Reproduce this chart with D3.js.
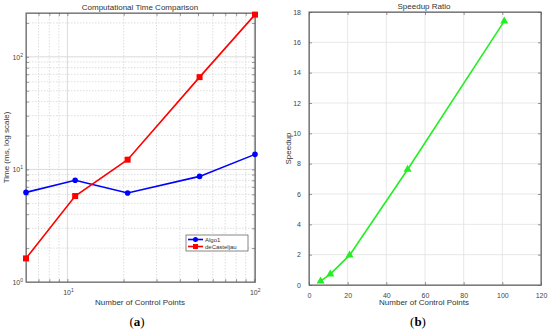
<!DOCTYPE html>
<html><head><meta charset="utf-8">
<script src="https://cdn.jsdelivr.net/npm/d3@7"></script>
<style>body{margin:0;background:#fff}svg{display:block;font-family:"Liberation Sans",Arial,sans-serif}</style>
</head><body><svg id="c" width="550" height="331"></svg>
<script>
const controlPoints = [6, 11, 21, 51, 101];
const algo1Times = [6.25, 8.0, 6.17, 8.67, 13.6];
const deCasteljauTimes = [1.62, 5.8, 12.2, 66, 237];
const speedups = [0.26, 0.72, 1.97, 7.62, 17.4];
const speedXTicks = [0, 20, 40, 60, 80, 100, 120];
const speedYTicks = [0, 2, 4, 6, 8, 10, 12, 14, 16, 18];
const logTickExps = [0, 1, 2];

const svg = d3.select("#c");
const axisCol = "#555", textCol = "#444";

// ---------- Left chart ----------
const L = {l: 26, r: 255, t: 13, b: 282};
const xL = d3.scaleLog().domain([6, 101]).range([L.l, L.r]);
const yL = d3.scaleLog().domain([1, 245]).range([L.b, L.t]);
const gL = svg.append("g");

const xMinor = [];
for (let d = 1; d <= 100; d *= 10) for (let k = 1; k <= 9; k++) { const v = k * d; if (v > 6 && v < 101) xMinor.push(v); }
const yMinor = [];
for (let d = 1; d <= 100; d *= 10) for (let k = 1; k <= 9; k++) { const v = k * d; if (v > 1 && v < 245) yMinor.push(v); }
const isMajor = d => Math.abs(Math.log10(d) % 1) < 1e-9;
gL.selectAll(".xm").data(xMinor).enter().append("line")
  .attr("x1", d => xL(d)).attr("x2", d => xL(d)).attr("y1", L.t).attr("y2", L.b)
  .attr("stroke", d => isMajor(d) ? "#d0d0d0" : "#d6d6d6").attr("stroke-width", 0.8)
  .attr("stroke-dasharray", d => isMajor(d) ? null : "1.5,1.5");
gL.selectAll(".ym").data(yMinor).enter().append("line")
  .attr("y1", d => yL(d)).attr("y2", d => yL(d)).attr("x1", L.l).attr("x2", L.r)
  .attr("stroke", d => isMajor(d) ? "#d0d0d0" : "#d6d6d6").attr("stroke-width", 0.8)
  .attr("stroke-dasharray", d => isMajor(d) ? null : "1.5,1.5");

gL.append("g").attr("transform", `translate(0,${L.b})`).call(d3.axisBottom(xL).tickValues(xMinor).tickSizeInner(-3).tickSizeOuter(0).tickFormat(""));
gL.append("g").attr("transform", `translate(0,${L.t})`).call(d3.axisTop(xL).tickValues(xMinor).tickSizeInner(-3).tickSizeOuter(0).tickFormat(""));
gL.append("g").attr("transform", `translate(${L.l},0)`).call(d3.axisLeft(yL).tickValues(yMinor).tickSizeInner(-3).tickSizeOuter(0).tickFormat(""));
gL.append("g").attr("transform", `translate(${L.r},0)`).call(d3.axisRight(yL).tickValues(yMinor).tickSizeInner(-3).tickSizeOuter(0).tickFormat(""));
gL.selectAll(".domain, .tick line").attr("stroke", axisCol).attr("stroke-width", 0.6);
gL.append("rect").attr("x", L.l).attr("y", L.t).attr("width", L.r - L.l).attr("height", L.b - L.t)
  .attr("fill", "none").attr("stroke", "#666").attr("stroke-width", 1);

function powLabel(g, x, y, e, anchor) {
  const t = g.append("text").attr("x", x).attr("y", y).attr("text-anchor", anchor)
    .attr("font-size", 7).attr("fill", textCol);
  t.append("tspan").text("10");
  t.append("tspan").attr("dy", -3).attr("font-size", 5).text(e);
}
logTickExps.forEach(e => {
  const v = Math.pow(10, e);
  powLabel(gL, L.l - 3, yL(v) + 3, e, "end");
  if (v >= 6 && v <= 101) powLabel(gL, xL(v) + 1, L.b + 13, e, "middle");
});

const lineL = d3.line().x((d, i) => xL(controlPoints[i])).y(d => yL(d));
gL.append("path").datum(algo1Times).attr("d", lineL).attr("fill", "none").attr("stroke", "#0000ff").attr("stroke-width", 1.6);
gL.append("path").datum(deCasteljauTimes).attr("d", lineL).attr("fill", "none").attr("stroke", "#ff0000").attr("stroke-width", 1.6);
gL.selectAll(".ca").data(algo1Times).enter().append("circle")
  .attr("cx", (d, i) => xL(controlPoints[i])).attr("cy", d => yL(d)).attr("r", 2.8).attr("fill", "#0000ff");
gL.selectAll(".sq").data(deCasteljauTimes).enter().append("rect")
  .attr("x", (d, i) => xL(controlPoints[i]) - 3).attr("y", d => yL(d) - 3).attr("width", 6).attr("height", 6).attr("fill", "#ff0000");

gL.append("text").attr("x", 140).attr("y", 10).attr("text-anchor", "middle").attr("font-size", 8).attr("fill", "#333").text("Computational Time Comparison");
gL.append("text").attr("x", 140).attr("y", 305).attr("text-anchor", "middle").attr("font-size", 8).attr("fill", "#333").text("Number of Control Points");
gL.append("text").attr("transform", `translate(9,${(L.t + L.b) / 2}) rotate(-90)`).attr("text-anchor", "middle").attr("font-size", 8).attr("fill", "#333").text("Time (ms, log scale)");

const lg = gL.append("g").attr("transform", "translate(186,235)");
lg.append("rect").attr("width", 62).attr("height", 16).attr("fill", "#fff").attr("stroke", "#555").attr("stroke-width", 0.7);
[["Algo1", "#0000ff", "c"], ["deCasteljau", "#ff0000", "s"]].forEach((s, i) => {
  const y = 4.5 + i * 7;
  lg.append("line").attr("x1", 2).attr("x2", 17).attr("y1", y).attr("y2", y).attr("stroke", s[1]).attr("stroke-width", 1.6);
  if (s[2] === "c") lg.append("circle").attr("cx", 9.5).attr("cy", y).attr("r", 2.5).attr("fill", s[1]);
  else lg.append("rect").attr("x", 7).attr("y", y - 2.5).attr("width", 5).attr("height", 5).attr("fill", s[1]);
  lg.append("text").attr("x", 19).attr("y", y + 2.2).attr("font-size", 6).attr("fill", "#333").text(s[0]);
});

// ---------- Right chart ----------
const R = {l: 309, r: 541, t: 12, b: 285};
const xR = d3.scaleLinear().domain([0, 120]).range([R.l, R.r]);
const yR = d3.scaleLinear().domain([0, 18]).range([R.b, R.t]);
const gR = svg.append("g");
gR.selectAll(".gx").data(speedXTicks).enter().append("line")
  .attr("x1", d => xR(d)).attr("x2", d => xR(d)).attr("y1", R.t).attr("y2", R.b).attr("stroke", "#e2e2e2").attr("stroke-width", 0.8);
gR.selectAll(".gy").data(speedYTicks).enter().append("line")
  .attr("y1", d => yR(d)).attr("y2", d => yR(d)).attr("x1", R.l).attr("x2", R.r).attr("stroke", "#e2e2e2").attr("stroke-width", 0.8);
gR.append("g").attr("transform", `translate(0,${R.b})`).call(d3.axisBottom(xR).tickValues(speedXTicks).tickSizeInner(-3).tickSizeOuter(0).tickPadding(8));
gR.append("g").attr("transform", `translate(${R.l},0)`).call(d3.axisLeft(yR).tickValues(speedYTicks).tickSizeInner(-3).tickSizeOuter(0).tickPadding(8));
gR.append("g").attr("transform", `translate(0,${R.t})`).call(d3.axisTop(xR).tickValues(speedXTicks).tickSizeInner(-3).tickSizeOuter(0).tickFormat(""));
gR.append("g").attr("transform", `translate(${R.r},0)`).call(d3.axisRight(yR).tickValues(speedYTicks).tickSizeInner(-3).tickSizeOuter(0).tickFormat(""));
gR.selectAll(".domain, .tick line").attr("stroke", axisCol).attr("stroke-width", 0.6);
gR.selectAll(".tick text").attr("font-size", 7).attr("fill", textCol).attr("font-family", "Liberation Sans, Arial, sans-serif");
gR.append("rect").attr("x", R.l).attr("y", R.t).attr("width", R.r - R.l).attr("height", R.b - R.t)
  .attr("fill", "none").attr("stroke", "#666").attr("stroke-width", 1);

const lineR = d3.line().x((d, i) => xR(controlPoints[i])).y(d => yR(d));
gR.append("path").datum(speedups).attr("d", lineR).attr("fill", "none").attr("stroke", "#22ee22").attr("stroke-width", 1.6);
const tri = d3.symbol().type(d3.symbolTriangle).size(28);
gR.selectAll(".tr").data(speedups).enter().append("path")
  .attr("d", tri).attr("transform", (d, i) => `translate(${xR(controlPoints[i])},${yR(d)})`).attr("fill", "#22ee22");

gR.append("text").attr("x", 424).attr("y", 9).attr("text-anchor", "middle").attr("font-size", 8).attr("fill", "#333").text("Speedup Ratio");
gR.append("text").attr("x", 424).attr("y", 305).attr("text-anchor", "middle").attr("font-size", 8).attr("fill", "#333").text("Number of Control Points");
gR.append("text").attr("transform", `translate(291,${(R.t + R.b) / 2}) rotate(-90)`).attr("text-anchor", "middle").attr("font-size", 8).attr("fill", "#333").text("Speedup");

svg.append("text").attr("x", 137).attr("y", 326).attr("text-anchor", "middle").attr("font-family", "Liberation Serif, serif").attr("font-size", 13).attr("fill", "#000")
  .html('(<tspan font-weight="bold">a</tspan>)');
svg.append("text").attr("x", 418).attr("y", 326).attr("text-anchor", "middle").attr("font-family", "Liberation Serif, serif").attr("font-size", 13).attr("fill", "#000")
  .html('(<tspan font-weight="bold">b</tspan>)');
</script></body></html>
